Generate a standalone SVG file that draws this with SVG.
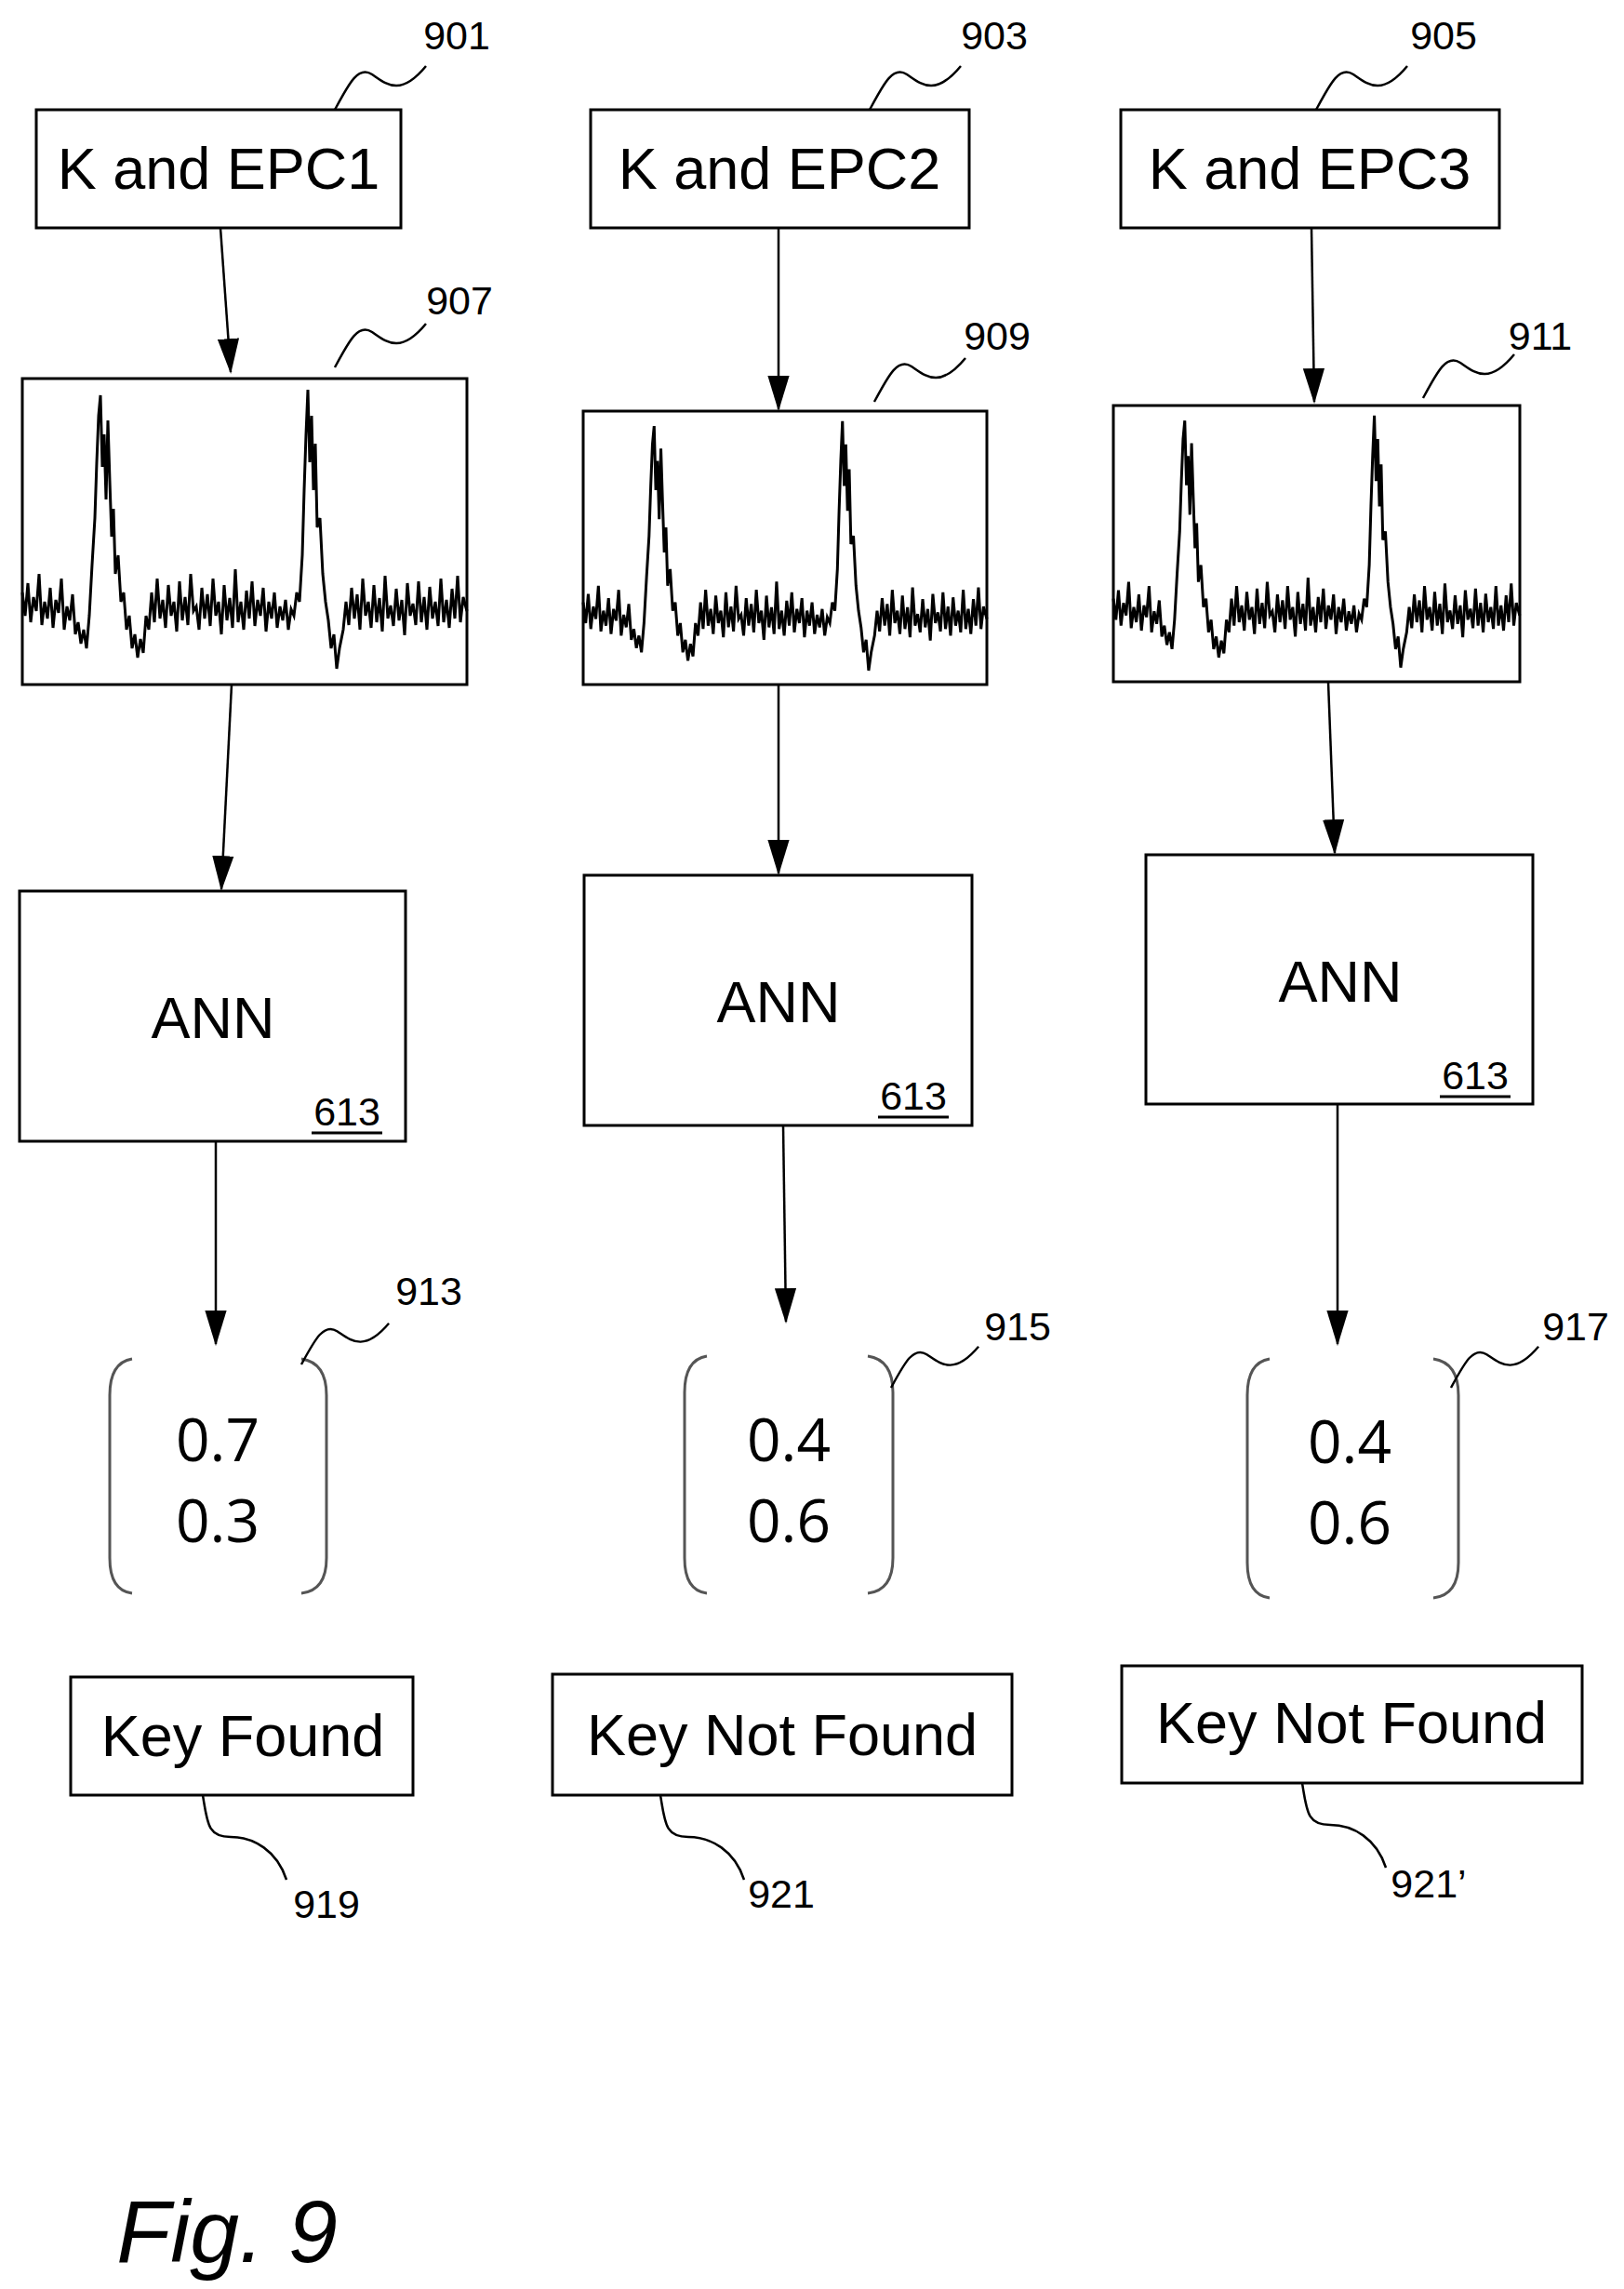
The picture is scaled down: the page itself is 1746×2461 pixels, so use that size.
<svg xmlns="http://www.w3.org/2000/svg" xmlns:xlink="http://www.w3.org/1999/xlink" width="1746" height="2461" viewBox="0 0 1746 2461">
<style>
.box{fill:#fff;stroke:#000;stroke-width:3}
.t{font-family:"Liberation Sans",Arial,sans-serif;fill:#000}
.big{font-size:63px}
.lbl{font-size:43px}
.num{font-family:"Open Sans","Liberation Sans",sans-serif;font-size:64px}
.lead{fill:none;stroke:#000;stroke-width:2.5}
.conn{fill:none;stroke:#000;stroke-width:2.5}
.par{fill:none;stroke:#555;stroke-width:3}
.wv{fill:none;stroke:#000;stroke-width:3;vector-effect:non-scaling-stroke}
</style>
<defs>
<marker id="ah" markerUnits="userSpaceOnUse" markerWidth="38" markerHeight="24" refX="34" refY="11" orient="auto" viewBox="0 0 36 22">
<path d="M0,0 L36,11 L0,22 Z" fill="#000"/>
</marker>
<path id="lu" class="lead" d="M0,0 C15,-28 25,-48 40,-38 S70,-13 98,-47"/>
<path id="ld" class="lead" d="M0,0 C5,30 5,45 30,45 S80,60 90,91"/>
<polyline id="wave" class="wv" points="0,230 3,255 6,220 9,262 12,235 15,250 18,210 21,265 24,240 27,258 30,225 33,268 36,238 39,252 42,215 45,270 48,245 51,260 54,232 57,275 60,262 63,285 66,270 69,290 72,255 75,200 78,150 80,90 82,40 84,18 86,95 88,60 90,130 92,45 94,110 96,170 98,140 100,210 103,190 106,240 109,230 112,270 115,255 118,290 121,275 124,300 127,280 130,295 133,255 136,270 139,230 142,262 145,215 148,258 151,238 154,268 157,222 160,255 163,240 166,272 169,218 172,260 175,235 178,265 181,210 184,250 187,245 190,270 193,225 196,258 199,232 202,266 205,215 208,255 211,240 214,275 217,222 220,260 223,236 226,268 229,205 232,262 235,240 238,270 241,228 244,258 247,218 250,266 253,238 256,255 259,225 262,272 265,240 268,258 271,230 274,268 277,245 280,260 283,238 286,270 289,248 292,255 295,230 298,240 301,190 303,120 305,60 307,12 309,90 311,40 313,120 315,70 317,160 320,150 323,210 326,240 329,260 332,290 335,275 338,312 341,290 345,270 348,240 351,265 354,225 357,258 360,232 363,270 366,215 369,255 372,240 375,268 378,222 381,262 384,236 387,272 390,212 393,258 396,244 399,266 402,226 405,260 408,238 411,276 414,220 417,255 420,242 423,265 426,218 429,262 432,235 435,270 438,224 441,258 444,240 447,266 450,215 453,262 456,238 459,268 462,226 465,258 468,212 471,262 474,235 478,250"/>
</defs>
<rect width="1746" height="2461" fill="#fff"/>

<g id="connectors">
<line class="conn" x1="237" y1="245" x2="248" y2="400" marker-end="url(#ah)"/>
<line class="conn" x1="837" y1="245" x2="837" y2="440" marker-end="url(#ah)"/>
<line class="conn" x1="1410" y1="245" x2="1413" y2="432" marker-end="url(#ah)"/>
<line class="conn" x1="249" y1="736" x2="238" y2="956" marker-end="url(#ah)"/>
<line class="conn" x1="837" y1="736" x2="837" y2="939" marker-end="url(#ah)"/>
<line class="conn" x1="1428" y1="733" x2="1435" y2="917" marker-end="url(#ah)"/>
<line class="conn" x1="232" y1="1227" x2="232" y2="1445" marker-end="url(#ah)"/>
<line class="conn" x1="842" y1="1210" x2="845" y2="1421" marker-end="url(#ah)"/>
<line class="conn" x1="1438" y1="1187" x2="1438" y2="1445" marker-end="url(#ah)"/>
</g>

<g id="n901">
<rect class="box" x="39" y="118" width="392" height="127"/>
<text class="t big" x="235" y="203" text-anchor="middle">K and EPC1</text>
<use href="#lu" transform="translate(360,118)"/>
<text class="t lbl" x="491" y="53" text-anchor="middle">901</text>
</g>
<g id="n903">
<rect class="box" x="635" y="118" width="407" height="127"/>
<text class="t big" x="838" y="203" text-anchor="middle">K and EPC2</text>
<use href="#lu" transform="translate(935,118)"/>
<text class="t lbl" x="1069" y="53" text-anchor="middle">903</text>
</g>
<g id="n905">
<rect class="box" x="1205" y="118" width="407" height="127"/>
<text class="t big" x="1408" y="203" text-anchor="middle">K and EPC3</text>
<use href="#lu" transform="translate(1415,118)"/>
<text class="t lbl" x="1552" y="53" text-anchor="middle">905</text>
</g>

<g id="n907">
<rect class="box" x="24" y="407" width="478" height="329"/>
<use href="#wave" transform="translate(24,407)"/>
<use href="#lu" transform="translate(360,395)"/>
<text class="t lbl" x="494" y="338" text-anchor="middle">907</text>
</g>
<g id="n909">
<rect class="box" x="627" y="442" width="434" height="294"/>
<use href="#wave" transform="translate(627,442) scale(0.908,0.894)"/>
<use href="#lu" transform="translate(940,432)"/>
<text class="t lbl" x="1072" y="376" text-anchor="middle">909</text>
</g>
<g id="n911">
<rect class="box" x="1197" y="436" width="437" height="297"/>
<use href="#wave" transform="translate(1197,436) scale(0.914,0.903)"/>
<use href="#lu" transform="translate(1530,428)"/>
<text class="t lbl" x="1656" y="376" text-anchor="middle">911</text>
</g>

<g id="ann1">
<rect class="box" x="21" y="958" width="415" height="269"/>
<text class="t big" x="229" y="1116" text-anchor="middle">ANN</text>
<text class="t lbl" x="373" y="1210" text-anchor="middle">613</text>
<line x1="335" y1="1218" x2="411" y2="1218" stroke="#000" stroke-width="3"/>
</g>
<g id="ann2">
<rect class="box" x="628" y="941" width="417" height="269"/>
<text class="t big" x="837" y="1099" text-anchor="middle">ANN</text>
<text class="t lbl" x="982" y="1193" text-anchor="middle">613</text>
<line x1="944" y1="1201" x2="1020" y2="1201" stroke="#000" stroke-width="3"/>
</g>
<g id="ann3">
<rect class="box" x="1232" y="919" width="416" height="268"/>
<text class="t big" x="1441" y="1077" text-anchor="middle">ANN</text>
<text class="t lbl" x="1586" y="1171" text-anchor="middle">613</text>
<line x1="1548" y1="1179" x2="1624" y2="1179" stroke="#000" stroke-width="3"/>
</g>

<g id="n913">
<path class="par" d="M142,1461 Q118,1465 118,1500 L118,1675 Q118,1710 142,1713"/>
<path class="par" d="M324,1461 Q351,1465 351,1500 L351,1675 Q351,1710 324,1713"/>
<text class="t num" x="234" y="1571" text-anchor="middle">0.7</text>
<text class="t num" x="234" y="1658" text-anchor="middle">0.3</text>
<use href="#lu" transform="translate(324,1467) scale(0.96,0.94)"/>
<text class="t lbl" x="461" y="1403" text-anchor="middle">913</text>
</g>
<g id="n915">
<path class="par" d="M760,1458 Q736,1462 736,1497 L736,1675 Q736,1710 760,1713"/>
<path class="par" d="M933,1458 Q960,1462 960,1497 L960,1675 Q960,1710 933,1713"/>
<text class="t num" x="848" y="1571" text-anchor="middle">0.4</text>
<text class="t num" x="848" y="1658" text-anchor="middle">0.6</text>
<use href="#lu" transform="translate(958,1492) scale(0.96,0.94)"/>
<text class="t lbl" x="1094" y="1441" text-anchor="middle">915</text>
</g>
<g id="n917">
<path class="par" d="M1365,1461 Q1341,1465 1341,1500 L1341,1680 Q1341,1715 1365,1718"/>
<path class="par" d="M1541,1461 Q1568,1465 1568,1500 L1568,1680 Q1568,1715 1541,1718"/>
<text class="t num" x="1451" y="1573" text-anchor="middle">0.4</text>
<text class="t num" x="1451" y="1660" text-anchor="middle">0.6</text>
<use href="#lu" transform="translate(1560,1492) scale(0.96,0.94)"/>
<text class="t lbl" x="1694" y="1441" text-anchor="middle">917</text>
</g>

<g id="n919">
<rect class="box" x="76" y="1803" width="368" height="127"/>
<text class="t big" x="261" y="1888" text-anchor="middle">Key Found</text>
<use href="#ld" transform="translate(218,1930)"/>
<text class="t lbl" x="351" y="2062" text-anchor="middle">919</text>
</g>
<g id="n921">
<rect class="box" x="594" y="1800" width="494" height="130"/>
<text class="t big" x="841" y="1887" text-anchor="middle">Key Not Found</text>
<use href="#ld" transform="translate(710,1930)"/>
<text class="t lbl" x="840" y="2051" text-anchor="middle">921</text>
</g>
<g id="n921p">
<rect class="box" x="1206" y="1791" width="495" height="126"/>
<text class="t big" x="1453" y="1874" text-anchor="middle">Key Not Found</text>
<use href="#ld" transform="translate(1400,1917)"/>
<text class="t lbl" x="1536" y="2040" text-anchor="middle">921’</text>
</g>

<text class="t" x="244" y="2432" font-size="95" font-style="italic" text-anchor="middle">Fig. 9</text>
</svg>
